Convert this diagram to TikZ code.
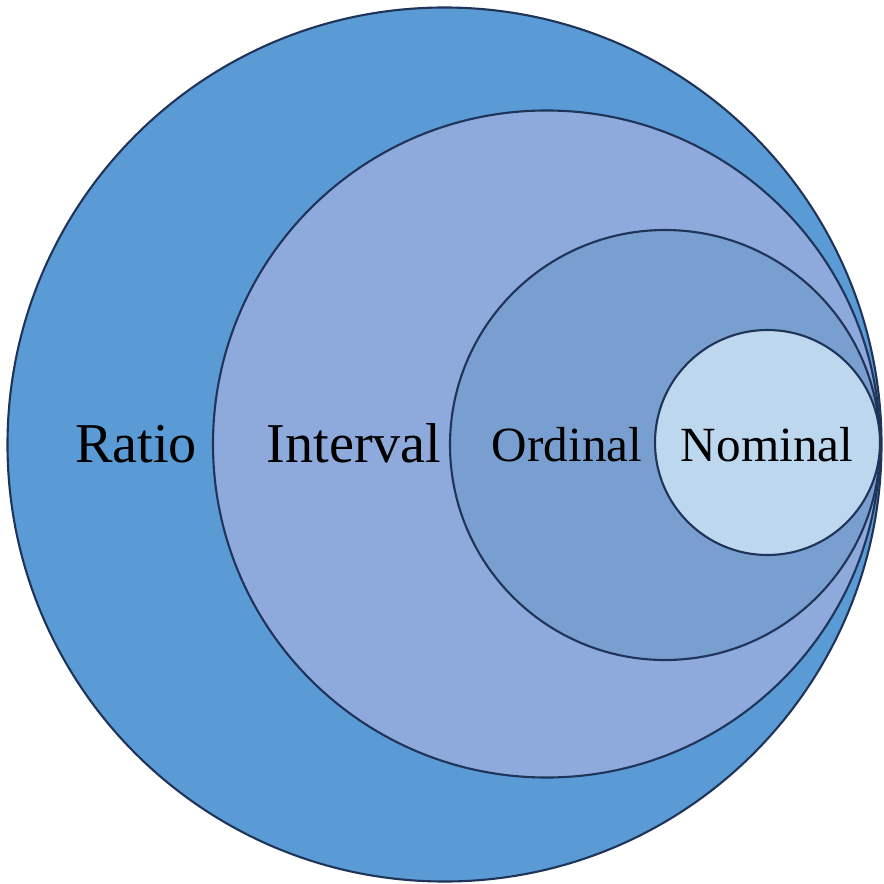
\documentclass[tikz,border=0pt]{standalone}
\usepackage{fontspec}
\setmainfont{Liberation Serif}
\usepackage{tikz}
\usetikzlibrary{positioning}

\definecolor{ratioblue}{HTML}{5B9BD5}
\definecolor{intervalblue}{HTML}{8EA9DB}
\definecolor{ordinalblue}{HTML}{789FCF}
\definecolor{nominalblue}{HTML}{BDD7EE}
\definecolor{rimnavy}{HTML}{1F3458}

\begin{document}
\begin{tikzpicture}[x=0.25mm, y=-0.25mm,
    level/.style={circle, draw=rimnavy, line width=1.5pt, inner sep=0pt},
    biglbl/.style={anchor=base, font=\fontsize{40}{44}\selectfont, text=black},
    smalllbl/.style={anchor=base, font=\fontsize{35}{40}\selectfont, text=black}]
  \useasboundingbox (0,0) rectangle (884,884);
  % Nested scales, all touching on the right
  \node[level, fill=ratioblue, minimum size=218.5mm] (ratio) at (444.5,444.5) {};
  \node[level, fill=intervalblue, minimum size=166.75mm] (interval) at (546.5,444) {};
  \node[level, fill=ordinalblue, minimum size=107.5mm] (ordinal) at (665,445) {};
  \node[level, fill=nominalblue, minimum size=56.25mm] (nominal) at (767.5,442.5) {};
  % Labels
  \node[biglbl] (ratiolbl) at (136,462) {Ratio};
  \node[biglbl] (intervallbl) at (354,462) {Interval};
  \node[smalllbl] (ordinallbl) at (567,461) {Ordinal};
  \node[smalllbl] (nominallbl) at (767,461) {Nominal};
\end{tikzpicture}
\end{document}
